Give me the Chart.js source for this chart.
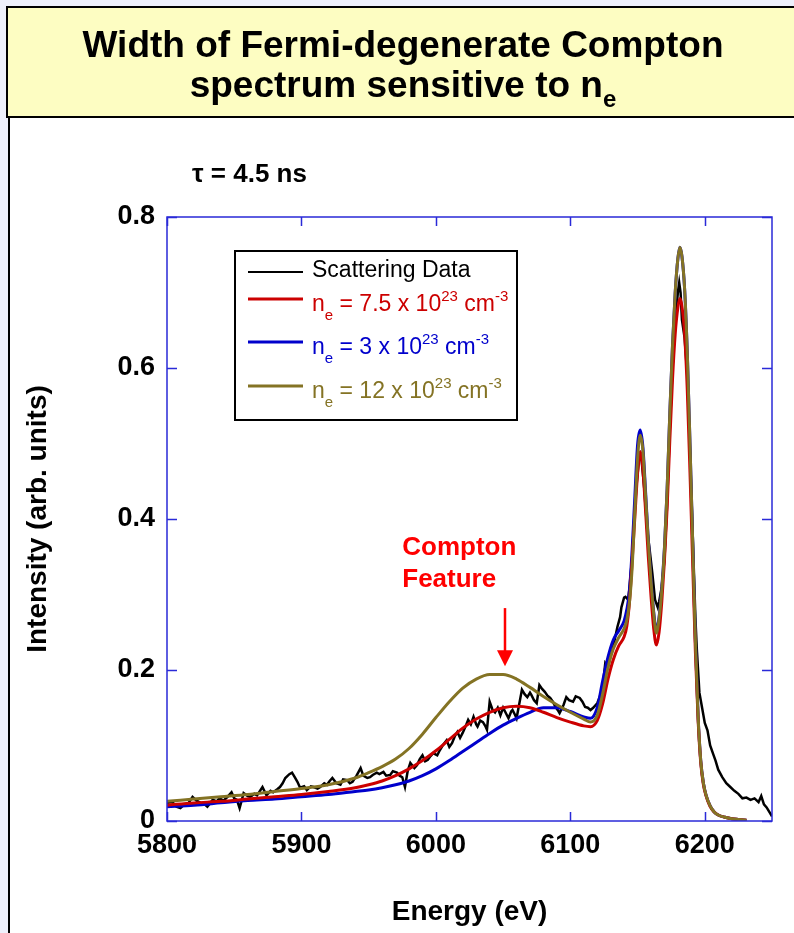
<!DOCTYPE html>
<html>
<head>
<meta charset="utf-8">
<title>Width of Fermi-degenerate Compton spectrum</title>
<script src="https://cdn.jsdelivr.net/npm/chart.js@4.4.1/dist/chart.umd.min.js"></script>
<style>
  html, body { margin: 0; padding: 0; background: #eef0fb; overflow: hidden; }
  #wrap { position: relative; width: 794px; height: 933px; }
  canvas { position: absolute; left: 0; top: 0; }
</style>
</head>
<body>
<div id="wrap"><canvas id="chart" width="794" height="933"></canvas></div>
<script>
// Scattering data (measured, noisy)
const dataEnergy = [
  5800,5804,5807,5810,5813,5815,5819,5822,5825,5828,
  5830,5834,5837,5839,5842,5845,5848,5850,5852,5854,
  5857,5860,5862,5865,5867,5871,5874,5877,5879,5882,
  5884,5886,5888,5891,5893,5895,5897,5899,5902,5904,
  5907,5909,5912,5914,5917,5919,5921,5923,5926,5929,
  5931,5934,5936,5938,5941,5944,5946,5949,5951,5953,
  5956,5958,5961,5963,5966,5968,5971,5973,5975,5977,
  5979,5981,5984,5986,5988,5990,5992,5994,5996,5998,
  6001,6003,6005,6008,6010,6012,6014,6016,6018,6020,
  6022,6024,6026,6028,6030,6031,6033,6035,6037,6038,
  6040,6042,6044,6046,6048,6050,6052,6054,6056,6057,
  6059,6060,6062,6064,6066,6068,6070,6071,6073,6075,
  6077,6079,6081,6083,6085,6087,6089,6091,6092,6094,
  6095,6097,6099,6102,6104,6107,6109,6111,6113,6115,
  6117,6120,6122,6124,6126,6128,6130,6131,6133,6135,
  6137,6138,6140,6141,6143,6144,6146,6147,6149,6151,
  6152,6153,6155,6157,6159,6161,6163,6165,6166,6168,
  6170,6172,6174,6176,6178,6180,6181,6182,6183,6185,
  6187,6189,6191,6193,6194,6196,6198,6200,6202,6204,
  6206,6208,6210,6213,6216,6219,6222,6225,6228,6231,
  6234,6237,6240,6242,6244,6246,6248,6250
];
const dataIntensity = [
  0.024,0.025,0.019,0.017,0.022,0.021,0.032,0.027,0.024,0.022,
  0.019,0.028,0.026,0.030,0.027,0.032,0.038,0.030,0.028,0.017,
  0.037,0.033,0.032,0.036,0.034,0.045,0.034,0.040,0.038,0.042,
  0.045,0.050,0.057,0.062,0.064,0.058,0.052,0.044,0.046,0.041,
  0.046,0.045,0.043,0.045,0.050,0.048,0.053,0.057,0.050,0.048,
  0.055,0.054,0.050,0.052,0.060,0.070,0.060,0.057,0.058,0.061,
  0.064,0.062,0.065,0.060,0.061,0.066,0.064,0.060,0.058,0.045,
  0.066,0.077,0.070,0.074,0.082,0.087,0.079,0.081,0.086,0.090,
  0.087,0.094,0.100,0.107,0.098,0.103,0.112,0.118,0.110,0.117,
  0.125,0.134,0.128,0.138,0.128,0.125,0.133,0.131,0.125,0.121,
  0.158,0.148,0.144,0.150,0.140,0.150,0.143,0.136,0.145,0.147,
  0.140,0.136,0.155,0.174,0.168,0.164,0.170,0.167,0.160,0.156,
  0.180,0.175,0.171,0.166,0.163,0.158,0.151,0.146,0.143,0.150,
  0.154,0.164,0.160,0.158,0.165,0.163,0.158,0.151,0.150,0.147,
  0.150,0.156,0.165,0.177,0.209,0.204,0.220,0.224,0.240,0.257,
  0.270,0.283,0.296,0.297,0.293,0.310,0.350,0.385,0.440,0.478,
  0.485,0.478,0.440,0.389,0.359,0.328,0.293,0.283,0.290,0.310,
  0.346,0.420,0.520,0.600,0.660,0.700,0.713,0.700,0.664,0.640,
  0.590,0.490,0.380,0.270,0.230,0.170,0.150,0.130,0.120,0.100,
  0.090,0.080,0.068,0.058,0.050,0.045,0.040,0.036,0.030,0.031,
  0.028,0.030,0.025,0.033,0.022,0.018,0.012,0.006
];

// Model fits, shared energy grid
const fitEnergy = [
  5800,5820,5840,5860,5880,5900,5920,5940,5950,5960,
  5970,5980,5990,6000,6010,6020,6030,6040,6050,6060,
  6070,6080,6090,6100,6110,6115,6120,6124,6128,6132,
  6136,6140,6142,6144,6146,6148,6150,6152,6154,6156,
  6158,6160,6162,6164,6166,6168,6170,6172,6174,6176,
  6178,6180,6181.5,6183,6185,6187,6189,6191,6193,6195,
  6197,6199,6201,6204,6207,6210,6215,6220,6225,6231
];
const fitNe75 = [
  0.021,0.024,0.026,0.029,0.032,0.035,0.039,0.044,0.048,0.053,
  0.060,0.069,0.080,0.093,0.108,0.123,0.135,0.144,0.150,0.152,
  0.150,0.144,0.137,0.131,0.126,0.125,0.133,0.155,0.188,0.214,
  0.232,0.244,0.258,0.290,0.345,0.403,0.460,0.489,0.465,0.410,
  0.350,0.298,0.255,0.233,0.250,0.290,0.345,0.415,0.505,0.585,
  0.645,0.680,0.692,0.682,0.645,0.570,0.462,0.342,0.225,0.135,
  0.077,0.048,0.033,0.019,0.012,0.008,0.005,0.003,0.002,0.001
];
const fitNe3 = [
  0.019,0.021,0.024,0.027,0.029,0.032,0.035,0.039,0.041,0.044,
  0.048,0.053,0.060,0.069,0.080,0.092,0.104,0.116,0.127,0.136,
  0.144,0.150,0.150,0.145,0.138,0.136,0.150,0.185,0.217,0.240,
  0.252,0.265,0.280,0.305,0.360,0.430,0.498,0.518,0.495,0.435,
  0.372,0.320,0.277,0.253,0.270,0.308,0.362,0.440,0.540,0.630,
  0.700,0.745,0.760,0.748,0.705,0.620,0.500,0.370,0.240,0.140,
  0.080,0.050,0.034,0.020,0.012,0.008,0.005,0.003,0.002,0.001
];
const fitNe12 = [
  0.026,0.029,0.032,0.035,0.039,0.043,0.048,0.057,0.064,0.072,
  0.082,0.096,0.115,0.137,0.158,0.176,0.188,0.194,0.194,0.188,
  0.177,0.165,0.154,0.144,0.135,0.131,0.140,0.168,0.203,0.228,
  0.243,0.255,0.266,0.290,0.336,0.410,0.480,0.511,0.490,0.430,
  0.370,0.318,0.275,0.249,0.268,0.305,0.360,0.440,0.540,0.630,
  0.700,0.745,0.760,0.748,0.705,0.620,0.500,0.370,0.240,0.140,
  0.080,0.050,0.034,0.020,0.012,0.008,0.005,0.003,0.002,0.001
];

const xTicks = [5800, 5900, 6000, 6100, 6200];
const yTicks = [0, 0.2, 0.4, 0.6, 0.8];

const FONT = '"Liberation Sans", Arial, sans-serif';
const RED = '#cc0000', BLUE = '#0000cc', OLIVE = '#847324';

const toPoints = (xs, ys) => xs.map((x, i) => ({ x: x, y: ys[i] }));

// Page background, title box, legend, annotation and inward ticks
const pagePlugin = {
  id: 'page',
  beforeDraw(chart) {
    const ctx = chart.ctx;
    ctx.save();
    ctx.fillStyle = '#eef0fb';
    ctx.fillRect(0, 0, 794, 933);
    ctx.fillStyle = '#ffffff';
    ctx.fillRect(9, 117, 785, 816);
    ctx.fillStyle = '#000';
    ctx.fillRect(8, 117, 2, 816);

    ctx.fillStyle = '#fdfdc2';
    ctx.fillRect(6, 6, 800, 111);
    ctx.strokeStyle = '#000';
    ctx.lineWidth = 2;
    ctx.strokeRect(7, 7, 800, 110);

    // title
    ctx.fillStyle = '#000';
    ctx.textBaseline = 'alphabetic';
    ctx.textAlign = 'center';
    ctx.font = 'bold 37px ' + FONT;
    ctx.fillText('Width of Fermi-degenerate Compton', 403, 57);
    ctx.textAlign = 'left';
    const main = 'spectrum sensitive to n';
    const w1 = ctx.measureText(main).width;
    ctx.font = 'bold 24px ' + FONT;
    const w2 = ctx.measureText('e').width;
    const sx = 403 - (w1 + w2) / 2;
    ctx.font = 'bold 37px ' + FONT;
    ctx.fillText(main, sx, 97);
    ctx.font = 'bold 24px ' + FONT;
    ctx.fillText('e', sx + w1, 107);

    ctx.font = 'bold 26px ' + FONT;
    ctx.fillText('\u03c4 = 4.5 ns', 192, 182);
    ctx.restore();
  },
  afterDatasetsDraw(chart) {
    const ctx = chart.ctx;
    const { left, right, top, bottom } = chart.chartArea;
    const xs = chart.scales.x, ys = chart.scales.y;
    ctx.save();

    // frame with inward ticks on all sides
    ctx.strokeStyle = '#2a2ad8';
    ctx.lineWidth = 1.5;
    ctx.strokeRect(left, top, right - left, bottom - top);
    ctx.beginPath();
    xTicks.forEach(v => {
      const px = Math.round(xs.getPixelForValue(v)) + 0.5;
      ctx.moveTo(px, bottom); ctx.lineTo(px, bottom - 9);
      ctx.moveTo(px, top); ctx.lineTo(px, top + 9);
    });
    yTicks.forEach(v => {
      const py = Math.round(ys.getPixelForValue(v)) + 0.5;
      ctx.moveTo(left, py); ctx.lineTo(left + 10, py);
      ctx.moveTo(right, py); ctx.lineTo(right - 10, py);
    });
    ctx.stroke();

    // legend box
    ctx.fillStyle = '#fff';
    ctx.fillRect(234, 250, 284, 171);
    ctx.strokeStyle = '#000';
    ctx.lineWidth = 2;
    ctx.strokeRect(235, 251, 282, 169);

    const rows = [
      { color: '#000', lineY: 272, base: 277, parts: [['Scattering Data', 'n']] },
      { color: RED, lineY: 299, base: 311, parts: [['n', 'n'], ['e', 'sub'], [' = 7.5 x 10', 'n'], ['23', 'sup'], [' cm', 'n'], ['-3', 'sup']] },
      { color: BLUE, lineY: 342, base: 354, parts: [['n', 'n'], ['e', 'sub'], [' = 3 x 10', 'n'], ['23', 'sup'], [' cm', 'n'], ['-3', 'sup']] },
      { color: OLIVE, lineY: 386, base: 398, parts: [['n', 'n'], ['e', 'sub'], [' = 12 x 10', 'n'], ['23', 'sup'], [' cm', 'n'], ['-3', 'sup']] }
    ];
    rows.forEach(r => {
      ctx.strokeStyle = r.color;
      ctx.lineWidth = r.color === '#000' ? 2 : 3;
      ctx.beginPath();
      ctx.moveTo(248, r.lineY); ctx.lineTo(303, r.lineY);
      ctx.stroke();
      ctx.fillStyle = r.color;
      ctx.textAlign = 'left';
      ctx.textBaseline = 'alphabetic';
      let cx = 312;
      r.parts.forEach(([t, k]) => {
        const size = k === 'n' ? 23 : 15;
        const dy = k === 'sub' ? 9 : (k === 'sup' ? -10 : 0);
        ctx.font = size + 'px ' + FONT;
        ctx.fillText(t, cx, r.base + dy);
        cx += ctx.measureText(t).width;
      });
    });

    // "Compton Feature" arrow
    ctx.fillStyle = '#ff0000';
    ctx.strokeStyle = '#ff0000';
    ctx.font = 'bold 26px ' + FONT;
    const tx = xs.getPixelForValue(5975);
    ctx.fillText('Compton', tx, ys.getPixelForValue(0.352));
    ctx.fillText('Feature', tx, ys.getPixelForValue(0.310));
    const ax = xs.getPixelForValue(6051.4);
    const aTop = ys.getPixelForValue(0.282);
    const aTip = ys.getPixelForValue(0.205);
    ctx.lineWidth = 2.5;
    ctx.beginPath();
    ctx.moveTo(ax, aTop); ctx.lineTo(ax, aTip - 14);
    ctx.stroke();
    ctx.beginPath();
    ctx.moveTo(ax - 8, aTip - 16);
    ctx.lineTo(ax + 8, aTip - 16);
    ctx.lineTo(ax, aTip);
    ctx.closePath();
    ctx.fill();

    ctx.restore();
  }
};

const tickFont = { family: FONT, size: 27, weight: 'bold' };
const titleFont = { family: FONT, size: 28, weight: 'bold' };

new Chart(document.getElementById('chart').getContext('2d'), {
  type: 'line',
  data: {
    datasets: [
      { label: 'Scattering Data', data: toPoints(dataEnergy, dataIntensity), borderColor: '#000', borderWidth: 2.5, tension: 0, order: 3 },
      { label: 'ne = 7.5 x 10^23 cm^-3', data: toPoints(fitEnergy, fitNe75), borderColor: RED, borderWidth: 3, cubicInterpolationMode: 'monotone', order: 1 },
      { label: 'ne = 3 x 10^23 cm^-3', data: toPoints(fitEnergy, fitNe3), borderColor: BLUE, borderWidth: 3, cubicInterpolationMode: 'monotone', order: 2 },
      { label: 'ne = 12 x 10^23 cm^-3', data: toPoints(fitEnergy, fitNe12), borderColor: OLIVE, borderWidth: 3, cubicInterpolationMode: 'monotone', order: 0 }
    ]
  },
  options: {
    responsive: false,
    animation: false,
    devicePixelRatio: 1,
    elements: { point: { radius: 0 } },
    layout: { padding: { left: 0, right: 22, top: 217, bottom: 0 } },
    plugins: { legend: { display: false }, tooltip: { enabled: false } },
    scales: {
      x: {
        type: 'linear', min: 5800, max: 6250,
        afterFit: s => { s.height = 112; },
        afterBuildTicks: s => { s.ticks = xTicks.map(v => ({ value: v })); },
        grid: { display: false, drawTicks: false },
        border: { display: false },
        ticks: { font: tickFont, color: '#000', padding: 8, maxRotation: 0, autoSkip: false, callback: v => String(v) },
        title: { display: true, text: 'Energy (eV)', font: titleFont, color: '#000', padding: { top: 0, bottom: 4 } }
      },
      y: {
        type: 'linear', min: 0, max: 0.8,
        afterFit: s => { s.width = 167; },
        afterBuildTicks: s => { s.ticks = yTicks.map(v => ({ value: v })); },
        grid: { display: false, drawTicks: false },
        border: { display: false },
        ticks: { font: tickFont, color: '#000', padding: 12, callback: v => v === 0 ? '0' : v.toFixed(1) },
        title: { display: true, text: 'Intensity (arb. units)', font: titleFont, color: '#000', padding: { top: 21, bottom: 0 } }
      }
    }
  },
  plugins: [pagePlugin]
});
</script>
</body>
</html>
